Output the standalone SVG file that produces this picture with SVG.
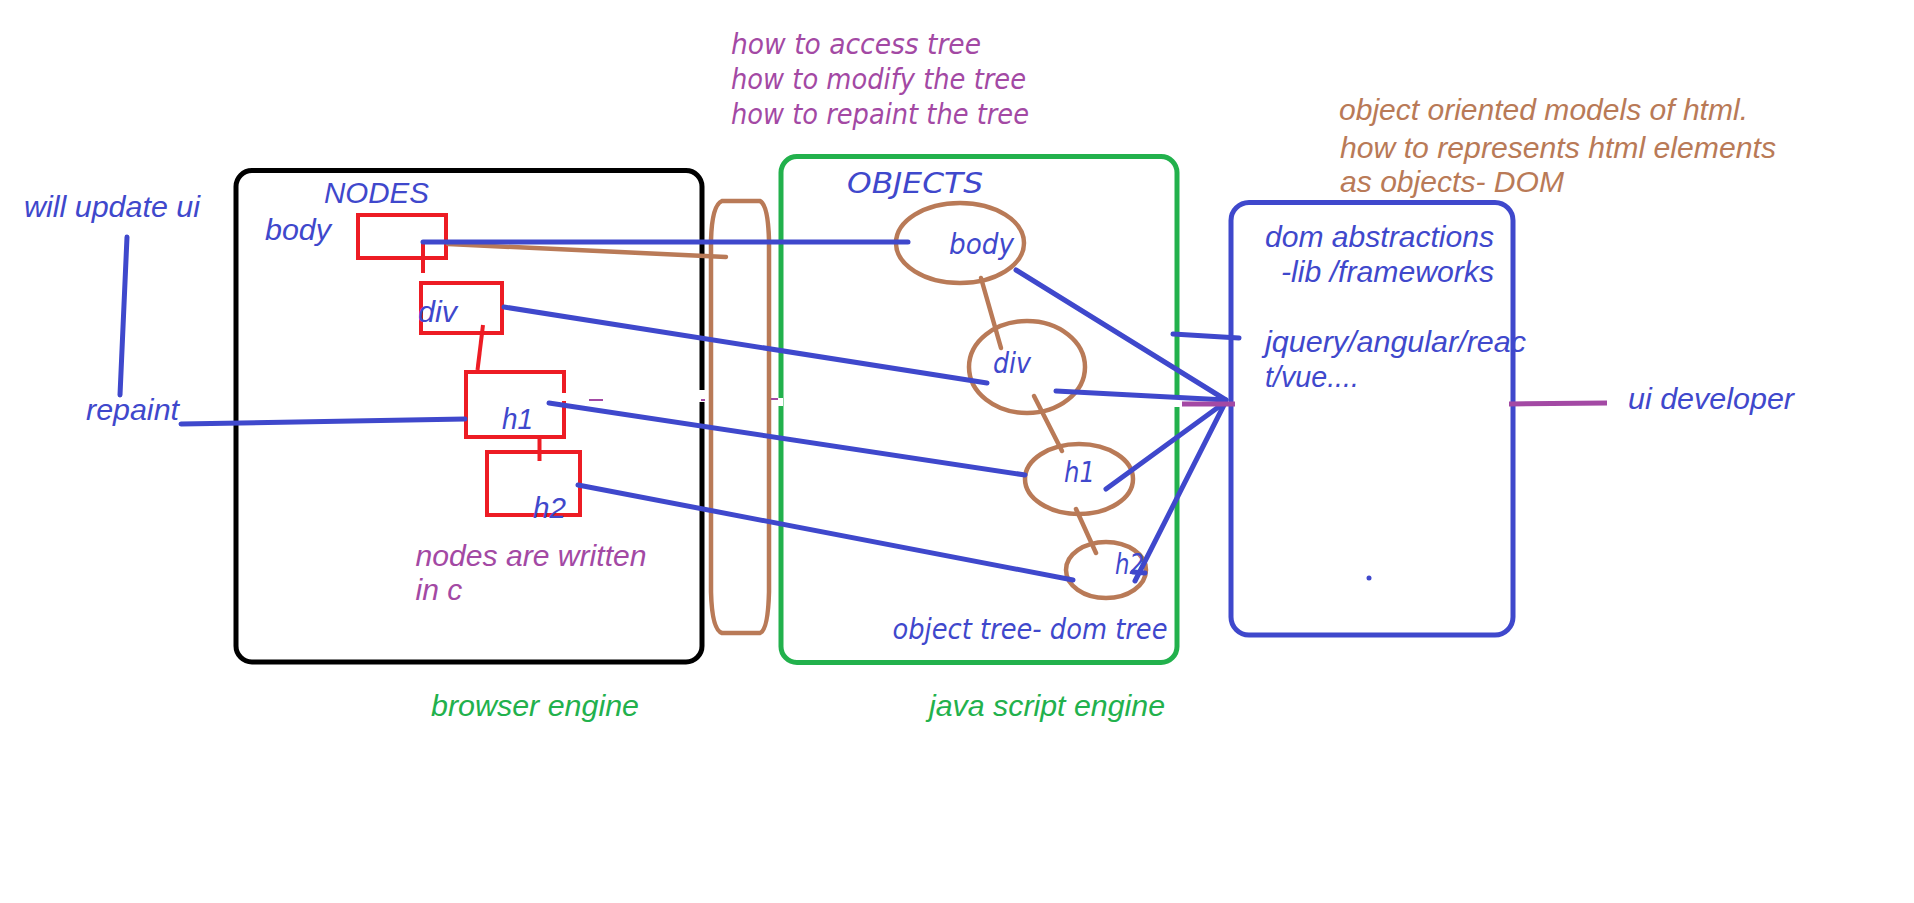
<svg xmlns="http://www.w3.org/2000/svg" width="1914" height="903" viewBox="0 0 1914 903">
<style>
.a{font-family:"Liberation Sans",Arial,sans-serif;font-style:italic;font-size:30px}
.v{font-family:"DejaVu Sans",Verdana,sans-serif;font-style:oblique;font-stretch:normal;font-weight:normal;font-size:27.5px}
.blue{fill:#3f48cc}.pur{fill:#a349a4}.brn{fill:#b97a57}.grn{fill:#22b14c}
.lb{stroke:#3f48cc;stroke-width:5;fill:none;stroke-linecap:round}
.lr{stroke:#ed1c24;stroke-width:4;fill:none}
.ln{stroke:#b97a57;stroke-width:4.5;fill:none;stroke-linecap:round}
.lp{stroke:#a349a4;stroke-width:5;fill:none}
</style>
<rect width="1914" height="903" fill="#fff"/>

<g id="browser-engine">
<rect x="236" y="170.5" width="466" height="491.5" rx="16" fill="none" stroke="#000" stroke-width="5"/>
<text class="a blue" x="324" y="203" textLength="105" lengthAdjust="spacingAndGlyphs">NODES</text>
<text class="a grn" x="431" y="716" textLength="208" lengthAdjust="spacingAndGlyphs">browser engine</text>
<text class="a pur" x="415.5" y="566" textLength="231" lengthAdjust="spacingAndGlyphs">nodes are written</text>
<text class="a pur" x="415.5" y="600">in c</text>
</g>

<g id="node-body">
<rect class="lr" x="358" y="215" width="88" height="43"/>
<text class="a blue" x="265" y="240" textLength="66" lengthAdjust="spacingAndGlyphs">body</text>
</g>
<g id="node-div">
<rect class="lr" x="421" y="283" width="81" height="50"/>
<text class="a blue" x="418" y="322" textLength="39" lengthAdjust="spacingAndGlyphs">div</text>
</g>
<g id="node-h1">
<rect class="lr" x="466" y="372" width="98" height="65"/>
<text class="a blue" x="502" y="429" textLength="31" lengthAdjust="spacingAndGlyphs">h1</text>
</g>
<g id="node-h2">
<rect class="lr" x="487" y="452" width="93" height="63"/>
<text class="a blue" x="533" y="518" textLength="33" lengthAdjust="spacingAndGlyphs">h2</text>
</g>

<g id="bridge">
<path d="M722,201 L760,201 Q768,205 769,240 L769,592 Q768,630 760,633 L722,633 Q712,630 711,592 L711,240 Q712,205 722,201 Z" fill="none" stroke="#b97a57" stroke-width="4.5"/>
</g>

<g id="js-engine">
<rect x="781" y="156.5" width="396" height="506" rx="16" fill="none" stroke="#22b14c" stroke-width="5"/>
<text class="v blue" x="847" y="193" font-size="29.5" textLength="136" lengthAdjust="spacingAndGlyphs">OBJECTS</text>
<text class="v blue" x="892.5" y="639" textLength="275" lengthAdjust="spacingAndGlyphs">object tree- dom tree</text>
<text class="a grn" x="929" y="716" textLength="236" lengthAdjust="spacingAndGlyphs">java script engine</text>
</g>

<g id="obj-body">
<ellipse cx="960" cy="243" rx="64" ry="40" fill="none" stroke="#b97a57" stroke-width="4.5"/>
<text class="v blue" x="949" y="254" textLength="65" lengthAdjust="spacingAndGlyphs">body</text>
</g>
<g id="obj-div">
<ellipse cx="1027" cy="367" rx="58" ry="46" fill="none" stroke="#b97a57" stroke-width="4.5"/>
<text class="v blue" x="993" y="373" textLength="38" lengthAdjust="spacingAndGlyphs">div</text>
</g>
<g id="obj-h1">
<ellipse cx="1079" cy="479" rx="54" ry="35" fill="none" stroke="#b97a57" stroke-width="4.5"/>
<text class="v blue" x="1064" y="482" textLength="31" lengthAdjust="spacingAndGlyphs">h1</text>
</g>
<g id="obj-h2">
<ellipse cx="1106" cy="570" rx="40" ry="28" fill="none" stroke="#b97a57" stroke-width="4.5"/>
<text class="v blue" x="1115" y="574" textLength="29" lengthAdjust="spacingAndGlyphs">h2</text>
</g>

<g id="dom-abstractions">
<text class="a blue" x="1265" y="247" textLength="229" lengthAdjust="spacingAndGlyphs">dom abstractions</text>
<text class="a blue" x="1281" y="282" textLength="213" lengthAdjust="spacingAndGlyphs">-lib /frameworks</text>
<text class="a blue" x="1265" y="352" textLength="261" lengthAdjust="spacingAndGlyphs">jquery/angular/reac</text>
<text class="a blue" x="1265" y="387" textLength="94" lengthAdjust="spacingAndGlyphs">t/vue....</text>
<rect x="1231" y="202.5" width="282" height="432.5" rx="18" fill="none" stroke="#3f48cc" stroke-width="5"/>
<circle cx="1369" cy="578" r="2.5" fill="#3f48cc"/>
</g>

<g id="labels">
<text class="v pur" x="731" y="54" textLength="250" lengthAdjust="spacingAndGlyphs">how to access tree</text>
<text class="v pur" x="731" y="89" textLength="295" lengthAdjust="spacingAndGlyphs">how to modify the tree</text>
<text class="v pur" x="731" y="124" textLength="298" lengthAdjust="spacingAndGlyphs">how to repaint the tree</text>
<text class="a brn" x="1339" y="120" textLength="409" lengthAdjust="spacingAndGlyphs">object oriented models of html.</text>
<text class="a brn" x="1340" y="158" textLength="436" lengthAdjust="spacingAndGlyphs">how to represents html elements</text>
<text class="a brn" x="1340" y="192" textLength="224" lengthAdjust="spacingAndGlyphs">as objects- DOM</text>
<text class="a blue" x="24" y="217" textLength="176" lengthAdjust="spacingAndGlyphs">will update ui</text>
<text class="a blue" x="86" y="420" textLength="93" lengthAdjust="spacingAndGlyphs">repaint</text>
<text class="a blue" x="1628" y="408.5" textLength="166" lengthAdjust="spacingAndGlyphs">ui developer</text>
</g>

<g id="connectors">
<line class="lr" x1="423" y1="242" x2="423" y2="273"/>
<line class="lr" x1="483" y1="325" x2="477.5" y2="370"/>
<line class="lr" x1="539.5" y1="439" x2="539.5" y2="461"/>
<line class="ln" x1="448" y1="244" x2="726" y2="257"/>
<line class="ln" x1="981" y1="278" x2="1001" y2="348"/>
<line class="ln" x1="1034" y1="396" x2="1062" y2="451"/>
<line class="ln" x1="1076" y1="509" x2="1096" y2="553"/>
<rect x="560" y="393" width="9" height="8" fill="#fff"/>
<rect x="698" y="390" width="8" height="12" fill="#fff"/>
<rect x="775" y="398" width="8" height="8" fill="#fff"/>
<rect x="1174" y="399" width="8" height="8" fill="#fff"/>
<line x1="589" y1="400" x2="603" y2="400" stroke="#a349a4" stroke-width="2"/>
<line x1="701" y1="400" x2="705" y2="400" stroke="#a349a4" stroke-width="2"/>
<line x1="771" y1="399" x2="778" y2="399" stroke="#a349a4" stroke-width="2"/>
<line class="lb" x1="127" y1="237" x2="120" y2="395"/>
<line class="lb" x1="181" y1="424" x2="465" y2="419"/>
<line class="lb" x1="423" y1="242" x2="908" y2="242"/>
<line class="lb" x1="504" y1="307" x2="987" y2="383"/>
<line class="lb" x1="549" y1="403" x2="1025" y2="475"/>
<line class="lb" x1="578" y1="485" x2="1073" y2="580"/>
<line class="lb" x1="1016" y1="270" x2="1226" y2="400"/>
<line class="lb" x1="1056" y1="391" x2="1226" y2="400"/>
<line class="lb" x1="1106" y1="489" x2="1224" y2="403"/>
<line class="lb" x1="1135" y1="581" x2="1224" y2="405"/>
<line class="lb" x1="1133" y1="572" x2="1145" y2="573"/>
<line class="lb" x1="1173" y1="334" x2="1239" y2="338"/>
<line class="lp" x1="1182" y1="404" x2="1235" y2="404"/>
<line class="lp" x1="1509" y1="404" x2="1607" y2="403"/>
</g>
</svg>
